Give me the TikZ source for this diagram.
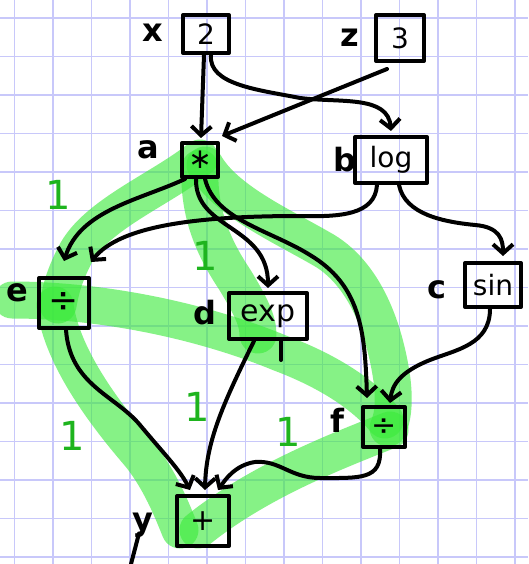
\documentclass[tikz,border=0pt]{standalone}
\usepackage{fontspec}
\setmainfont{DejaVu Sans}
\usetikzlibrary{arrows.meta}
\definecolor{gridc}{RGB}{200,200,250}
\definecolor{hl}{RGB}{60,235,60}
\definecolor{onec}{RGB}{30,180,30}
\begin{document}
\begin{tikzpicture}[x=1pt,y=-1pt,
  gridline/.style={draw=gridc, line width=1.3pt},
  band/.style={draw=hl, opacity=0.62, line width=37pt, line cap=round, line join=round},
  opbox/.style={draw, line width=4pt, inner sep=0pt, line join=round, font=\fontsize{28}{28}\selectfont},
  lbl/.style={font=\fontsize{32}{32}\selectfont\bfseries, inner sep=0pt},
  one/.style={text=onec, font=\fontsize{40}{40}\selectfont, inner sep=0pt},
  edge/.style={line width=4pt, line cap=round, line join=round, -{Straight Barb[length=9pt,width=20pt]}},
  plain/.style={line width=4pt, line cap=round}
]
\useasboundingbox (0,0) rectangle (528,564);
\fill[white] (0,0) rectangle (528,564);
% grid
\foreach \i in {0,...,13} \draw[gridline] ({14.5+38.5*\i},0) -- ({14.5+38.5*\i},564);
\foreach \j in {0,...,14} \draw[gridline] (0,{18+38.5*\j}) -- (528,{18+38.5*\j});
% green highlight bands
\draw[band] (200,158) .. controls (160,190) and (95,215) .. (75,255) .. controls (62,280) and (60,295) .. (58,305);
\draw[band] (200,168) .. controls (198,215) and (215,250) .. (235,280) .. controls (250,305) and (258,320) .. (258,335);
\draw[band] (205,165) .. controls (225,200) and (280,225) .. (320,248) .. controls (365,272) and (385,330) .. (392,380) .. controls (395,405) and (392,420) .. (388,428);
\draw[band] (12,300) .. controls (100,300) and (200,320) .. (280,353) .. controls (320,368) and (360,390) .. (385,420);
\draw[band] (55,305) .. controls (62,360) and (110,420) .. (140,455) .. controls (160,480) and (172,510) .. (180,530);
\draw[band] (390,430) .. controls (340,450) and (260,480) .. (198,530);
% boxes
\node[opbox, minimum width=46pt, minimum height=38pt] (n2) at (206,34) {2};
\node[opbox, minimum width=48pt, minimum height=46pt] (n3) at (400,38) {3};
\node[opbox, minimum width=36pt, minimum height=34pt] (na) at (200,160) {∗};
\node[opbox, minimum width=72pt, minimum height=46pt] (nb) at (391,160) {log};
\node[opbox, minimum width=56pt, minimum height=44pt] (nc) at (493,285) {sin};
\node[opbox, minimum width=50pt, minimum height=50pt, font=\fontsize{36}{36}\selectfont] (ne) at (64,303) {÷};
\node[opbox, minimum width=78pt, minimum height=46pt, font=\fontsize{30}{30}\selectfont] (nd) at (268,316) {exp};
\node[opbox, minimum width=42pt, minimum height=40pt, font=\fontsize{30}{30}\selectfont] (nf) at (384,427) {÷};
\node[opbox, minimum width=52pt, minimum height=50pt, font=\fontsize{30}{30}\selectfont] (ny) at (203,521) {+};
% variable labels
\node[lbl] (lx) at (153,33) {x};
\node[lbl] (lz) at (350,38) {z};
\node[lbl] (la) at (148,150) {a};
\node[lbl] (lb) at (345,160) {b};
\node[lbl] (lc) at (437,290) {c};
\node[lbl] (le) at (17,293) {e};
\node[lbl] (ld) at (205,313) {d};
\node[lbl] (lf) at (337,420) {f};
\node[lbl] (ly) at (143,525) {y};
\coordinate (ytail) at (131,564);
\draw[plain] ([xshift=-4pt,yshift=4pt]ly.south) -- (ytail);
% gradient labels
\node[one] (g1) at (58,195) {1};
\node[one] (g2) at (205,256) {1};
\node[one] (g3) at (72,436) {1};
\node[one] (g4) at (197,407) {1};
\node[one] (g5) at (288,432) {1};
% edges
\draw[edge] ([xshift=-2pt]n2.south) -- ([xshift=1pt,yshift=3pt]na.north);
\draw[edge] ([xshift=5pt]n2.south) .. controls (208,85) and (260,90) .. (300,98) .. controls (340,103) and (388,95) .. ([yshift=4pt]nb.north);
\draw[edge] ([xshift=-13pt,yshift=-6pt]n3.south) -- ([xshift=2pt,yshift=5pt]na.north east);
\draw[edge] ([xshift=5pt]na.south west) .. controls (140,200) and (80,210) .. ([yshift=15pt]ne.north);
\draw[edge] ([xshift=-14pt]nb.south) .. controls (375,215) and (340,217) .. (300,216) .. controls (200,216) and (120,225) .. ([yshift=14pt]ne.north east);
\draw[edge] ([xshift=-4pt]na.south) .. controls (195,230) and (268,225) .. ([yshift=3pt]nd.north);
\draw[edge] ([xshift=5pt]na.south) .. controls (215,220) and (270,230) .. (310,255) .. controls (360,285) and (365,330) .. ([xshift=-17pt,yshift=7pt]nf.north);
\draw[edge] ([xshift=8pt]nb.south) .. controls (405,215) and (445,222) .. (475,225) .. controls (500,227) and (503,240) .. ([xshift=10pt,yshift=5pt]nc.north);
\draw[edge] ([xshift=-3pt]nc.south) .. controls (490,345) and (455,350) .. (430,360) .. controls (400,372) and (392,385) .. ([xshift=6pt,yshift=2pt]nf.north);
\draw[edge] ([xshift=2pt]ne.south) .. controls (70,385) and (115,395) .. (140,425) .. controls (165,455) and (180,470) .. ([xshift=-13pt,yshift=4pt]ny.north);
\draw[edge] ([xshift=-14pt]nd.south) .. controls (225,400) and (206,440) .. ([xshift=2pt,yshift=4pt]ny.north);
\draw[edge] ([xshift=-4pt]nf.south) .. controls (382,480) and (360,478) .. (320,478) .. controls (290,478) and (280,460) .. (255,462) .. controls (235,465) and (225,480) .. ([xshift=15pt,yshift=4pt]ny.north);
\coordinate (stub) at (281,360);
\draw[plain] ([xshift=13pt]nd.south) -- (stub);
\end{tikzpicture}
\end{document}
